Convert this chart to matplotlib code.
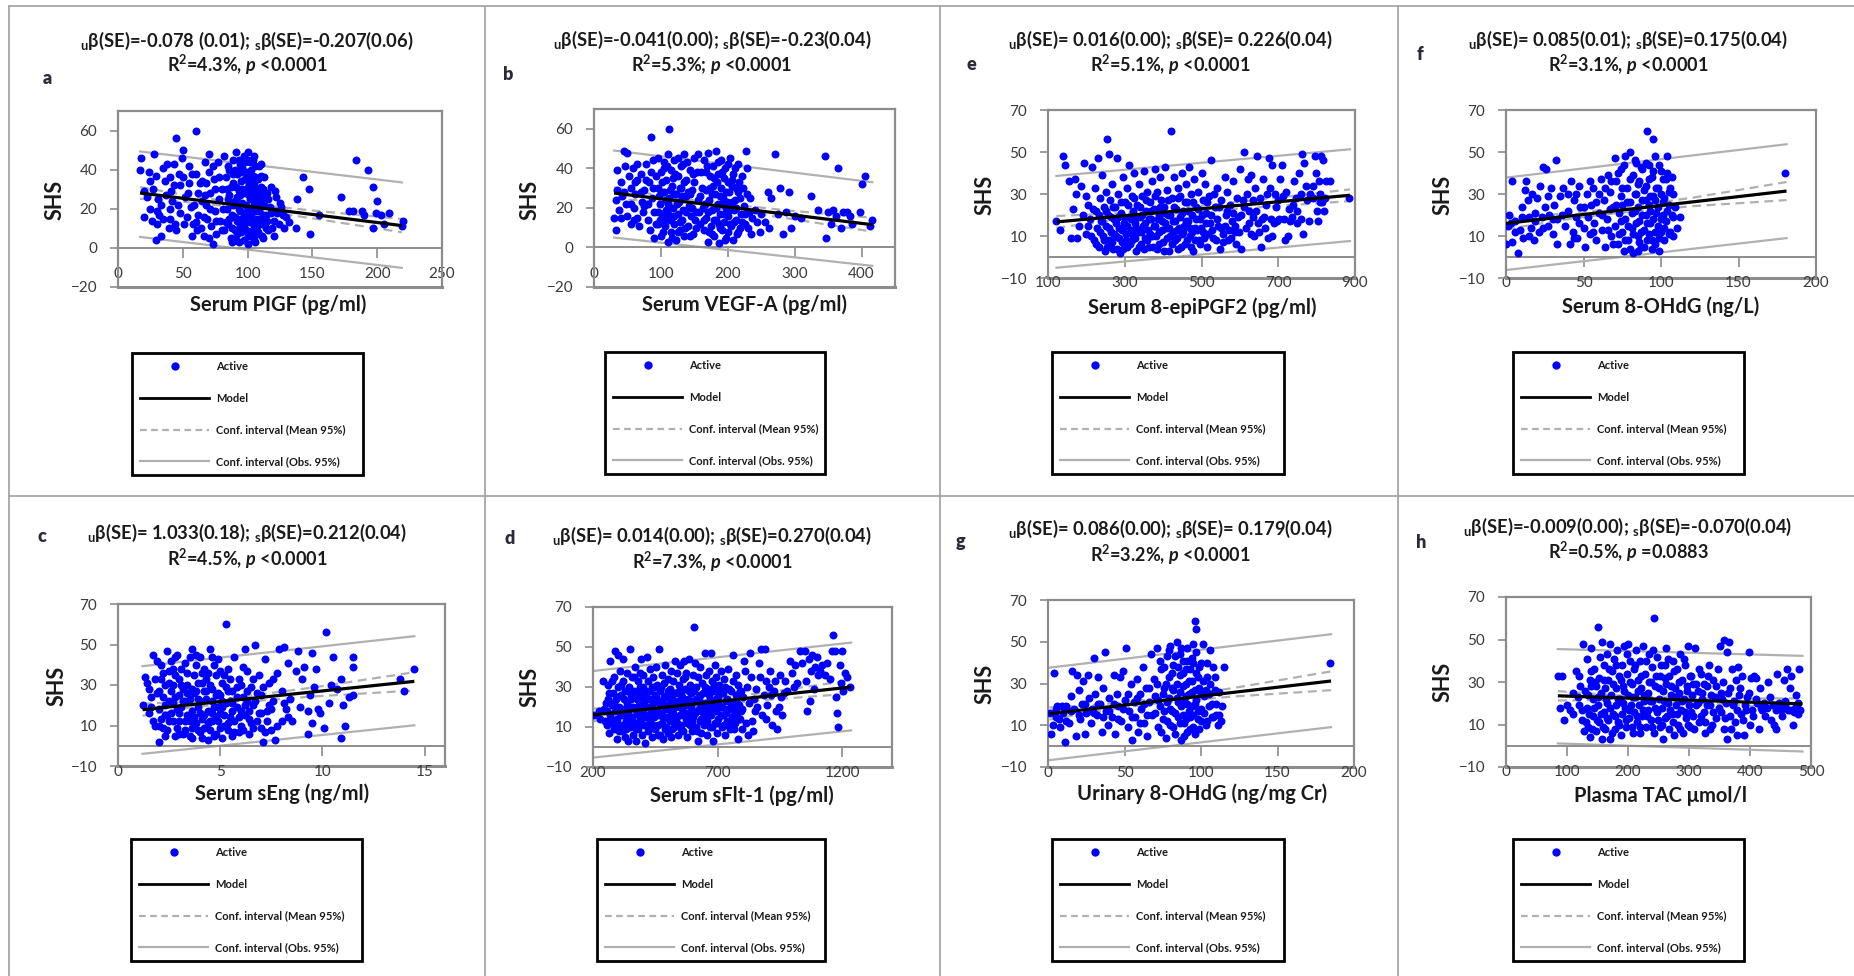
import matplotlib
matplotlib.use('Agg')
import matplotlib.pyplot as plt
from matplotlib.lines import Line2D

plt.rcParams['font.family'] = ['Lato', 'DejaVu Sans']
plt.rcParams['mathtext.fontset'] = 'custom'
plt.rcParams['mathtext.rm'] = 'Lato:bold'
plt.rcParams['mathtext.it'] = 'Lato:italic:bold'
plt.rcParams['mathtext.bf'] = 'Lato:bold'

# ---------------- data ----------------
a_pts = [(18,46),(17,40),(20,29),(20,16),(25,34),(28,48),(27,30),(29,37),(30,19),(30,12),(31,25),(32,17),(33,6),(29,4),
 (35,41),(36,34),(38,43),(40,36),(41,29),(40,15),(42,24),(43,43),(44,12),(45,9),(45,56),(47,38),(48,32),(49,46),(50,50),
 (48,18),(52,26),(53,16),(55,33),(56,21),(57,6),(58,12),(60,60),(60,38),(62,28),(62,17),(64,10),(65,34),(66,6),(67,44),
 (68,22),(69,15),(70,39),(70,48),(71,28),(72,11),(73,2),(74,35),(75,19),(76,7),(77,44),(78,25),(79,14),(80,30),
 (82,47),(82,9),(83,36),(84,20),(85,12),(86,40),(86,27),(87,5),(88,17),(89,33),(89,45),(90,24),(90,9),(91,49),(92,14),
 (92,38),(93,29),(93,3),(94,19),(94,43),(95,8),(95,34),(96,23),(96,12),(97,47),(97,4),(98,28),(98,16),(99,39),(99,9),
 (100,49),(100,20),(100,2),(101,33),(101,13),(102,44),(102,25),(103,6),(103,17),(104,37),(104,30),(105,11),(105,22),
 (106,42),(106,3),(107,27),(107,15),(108,35),(108,8),(109,19),(110,43),(110,31),(111,12),(112,24),(112,5),
 (113,36),(114,17),(115,28),(116,9),(117,21),(118,31),(120,14),(120,6),(121,19),(122,26),(124,12),(125,23),(127,17),
 (128,10),(130,16),(132,13),(138,25),(137,10),(143,36),(147,30),(148,7),(155,17),(172,26),(178,19),(181,19),(184,45),
 (188,19),(190,17),(193,40),(197,31),(197,10),(200,24),(199,18),(203,17),(205,12),(209,18),(219,11),(220,14),
 (84,30),(86,15),(88,3),(89,22),(91,31),(92,7),(94,27),(95,15),(96,41),(97,10),(98,35),(99,22),(100,6),(101,27),
 (102,15),(103,40),(104,9),(105,33),(106,19),(107,7),(108,24),(109,42),(110,14),(111,27),(90,40),(93,45),(100,45),
 (105,47),(60,13),(55,42),(65,24),(70,5),(75,30),(50,36),(40,20),(35,15),(25,20),(68,33),
 (81,20),(83,13),(85,25),(85,42),(87,31),(88,10),(89,38),(90,16),(91,4),(92,26),(93,20),(94,11),(95,39),(96,30),
 (97,18),(98,44),(99,13),(100,31),(100,38),(101,8),(102,20),(102,35),(103,28),(104,14),(104,45),(105,4),(106,25),
 (106,36),(107,11),(108,30),(109,13),(110,22),(110,37),(111,6),(112,17),(112,30),(113,22),(114,10),(115,14),(116,25),
 (118,18),(119,10),(121,29),(123,18),(126,21),(22,26),(24,39),(26,14),(33,22),(37,27),(39,10),(43,32),(46,22),(51,12),
 (54,28),(57,38),(59,22),(61,9),(63,33),(66,16),(67,27),(71,20),(73,42),(76,14),(78,36),(80,9)]

b_pts = [(30,15),(33,24),(33,9),(35,29),(35,39),(37,19),(40,33),(42,26),(45,49),(47,41),(48,22),(50,48),(50,16),(52,36),
 (55,30),(55,12),(58,40),(60,20),(62,27),(65,34),(65,15),(68,11),(70,37),(72,23),(74,18),(75,29),(78,42),(80,14),(82,33),
 (84,9),(85,56),(86,25),(88,44),(90,18),(90,5),(95,45),(95,30),(96,12),(98,22),(100,38),(100,6),(102,17),(104,43),(105,28),
 (106,11),(108,34),(108,19),(110,47),(110,3),(112,25),(112,60),(113,14),(115,39),(115,8),(117,31),(118,20),(120,44),
 (120,12),(122,27),(123,4),(125,36),(125,17),(127,23),(128,9),(130,41),(130,30),(132,14),(133,19),(135,47),(135,6),
 (137,26),(138,34),(140,11),(142,21),(143,39),(145,16),(147,29),(148,7),(150,33),(152,18),(155,24),(156,47),(158,12),
 (160,38),(163,20),(165,44),(165,9),(167,29),(168,15),(170,48),(170,3),(172,24),(173,36),(175,11),(176,19),(178,41),
 (178,31),(180,6),(181,27),(182,49),(183,14),(185,22),(186,37),(187,2),(188,17),(190,44),(190,30),(192,9),(193,25),
 (195,13),(196,40),(197,20),(198,5),(200,33),(201,16),(202,28),(203,45),(205,11),(206,23),(208,37),(208,4),(210,19),
 (212,30),(213,14),(215,42),(216,8),(218,25),(220,17),(222,36),(224,21),(225,12),(227,49),(229,27),(232,18),(235,7),
 (240,19),(243,13),(248,8),(250,17),(255,13),(260,28),(262,10),(265,25),(270,47),(275,17),(278,30),(283,7),(287,18),
 (292,28),(295,10),(300,16),(310,15),(325,26),(335,19),(345,46),(347,5),(350,18),(355,12),(358,19),(362,16),(365,40),
 (370,10),(373,18),(378,18),(383,16),(385,12),(397,18),(400,32),(405,36),(412,11),(416,14),
 (105,40),(110,22),(115,15),(118,35),(120,27),(125,8),(128,30),(133,42),(138,18),(143,27),(148,37),(153,10),(158,26),
 (168,38),(172,8),(177,27),(180,14),(184,33),(188,10),(191,22),(194,35),(198,28),(200,8),(204,19),(207,31),(211,24),
 (214,7),(217,33),(221,13),(100,28),(95,18),(105,14),(88,30),(92,36),(75,21),(65,42),(60,14),
 (97,26),(99,14),(101,33),(103,8),(107,24),(109,41),(111,17),(114,29),(116,5),(119,16),(121,37),(124,22),(126,45),
 (129,13),(131,26),(134,33),(136,10),(139,43),(141,28),(144,6),(146,20),(149,45),(151,14),(154,38),(157,18),(162,30),
 (164,14),(166,22),(169,41),(171,18),(174,30),(177,7),(179,35),(182,20),(185,43),(187,12),(189,26),(192,38),(194,17),
 (196,4),(199,23),(201,42),(203,12),(206,34),(209,13),(211,40),(213,20),(216,28),(219,10),(223,30),(226,17),(228,40),
 (230,10),(233,25),(236,15),(70,28),(80,22),(85,38),(92,12),(45,28),(55,22),(40,15),(62,33),(77,34)]

e_pts = [(122,17),(130,13),(140,48),(145,44),(155,36),(160,9),(165,23),(170,37),(172,30),(175,9),(180,15),(185,34),(190,20),
 (195,45),(198,29),(200,11),(205,25),(210,18),(215,43),(220,8),(222,33),(225,22),(228,14),(230,47),(232,5),(235,28),
 (238,17),(240,39),(243,10),(245,24),(248,3),(250,31),(252,15),(255,56),(257,20),(258,8),(260,49),(262,27),(265,12),
 (267,35),(270,4),(272,18),(275,24),(277,10),(280,47),(282,30),(285,14),(287,2),(290,21),(292,7),(295,38),(297,16),
 (300,26),(302,11),(305,33),(307,5),(310,19),(312,44),(315,13),(318,29),(320,8),(322,22),(325,40),(327,16),(330,3),
 (332,25),(335,12),(338,35),(340,19),(342,6),(345,29),(348,15),(350,41),(352,9),(355,22),(358,31),(360,13),(362,5),
 (365,26),(368,18),(370,36),(372,10),(375,23),(378,42),(380,15),(383,4),(385,31),(388,20),(390,12),(393,38),(395,27),
 (398,17),(400,7),(403,24),(405,43),(408,14),(410,32),(413,20),(415,3),(418,10),(420,60),(422,28),(425,17),(428,38),
 (430,8),(433,23),(435,13),(438,33),(440,4),(443,19),(445,29),(448,11),(450,40),(453,22),(455,15),(458,6),(460,35),
 (463,26),(465,17),(468,43),(470,10),(473,30),(475,20),(478,3),(480,37),(483,14),(485,24),(490,31),(493,8),(495,18),
 (500,40),(503,27),(505,12),(510,35),(512,21),(515,5),(520,29),(522,16),(525,46),(530,9),(535,24),(540,33),(543,15),
 (548,4),(550,27),(555,11),(560,38),(563,20),(567,31),(570,8),(575,25),(580,17),(583,36),(588,12),(592,28),(595,19),
 (600,42),(603,4),(607,27),(610,50),(615,14),(620,37),(623,22),(628,39),(630,11),(635,19),(640,33),(645,48),(648,16),
 (652,28),(655,5),(660,37),(663,19),(668,25),(672,9),(675,47),(678,33),(683,44),(688,16),(692,30),(697,17),(700,27),
 (705,37),(710,44),(715,18),(720,31),(725,10),(728,23),(735,19),(740,36),(745,28),(750,16),(755,40),(760,30),(762,49),
 (768,45),(772,34),(775,27),(783,30),(790,28),(795,48),(800,22),(803,17),(805,36),(808,26),(812,48),(817,46),(820,22),
 (825,36),(835,36),(885,28),
 (205,15),(212,10),(218,23),(226,6),(233,20),(236,12),(241,17),(247,8),(251,22),(254,5),(259,14),(263,19),(266,7),
 (269,24),(273,11),(276,16),(279,4),(283,19),(286,9),(289,26),(293,13),(296,4),(299,19),(303,8),(306,15),(309,25),
 (313,6),(316,18),(319,11),(323,28),(326,9),(329,14),(333,19),(336,5),(339,24),(343,12),(346,20),(349,4),(353,16),
 (356,27),(359,8),(363,18),(366,11),(369,22),(373,5),(376,15),(379,29),(382,10),(386,18),(389,6),(392,24),(396,13),
 (399,21),(402,3),(406,16),(409,9),(412,27),(416,14),(419,20),(423,6),(426,12),(429,24),(432,17),(436,9),(439,28),
 (442,14),(446,5),(449,21),(452,12),(456,26),(459,17),(462,8),(466,22),(469,14),(472,5),(476,12),(479,26),(482,8),
 (486,18),(489,13),(492,23),(496,6),(499,14),(502,20),(507,9),(511,16),(514,26),(518,11),(524,20),(528,13),(532,30),
 (537,8),(541,18),(546,24),(552,14),(557,7),(562,15),(566,22),(572,13),(577,9),(582,21),(586,15),(590,6),(597,12),
 (602,20),(612,24),(618,30),(625,16),(633,27),(638,10),(643,22),(650,12),(658,18),(665,14),(670,30),(680,18),(685,10),
 (695,24),(703,18),(712,29),(718,8),(730,17),(738,25),(748,22),(758,18),(765,11),(780,17),(790,34),(798,40),(808,30),
 (815,26),(823,28)]

f_pts = [(0,6),(1,15),(2,20),(4,7),(4,36),(6,17),(8,2),(9,13),(10,19),(11,9),(12,32),(13,36),(14,27),(15,10),(15,19),
 (17,30),(18,8),(19,17),(20,28),(21,12),(22,34),(23,19),(24,43),(25,24),(26,42),(27,15),(28,20),(29,33),(30,11),(31,25),
 (32,46),(33,6),(33,18),(35,29),(37,33),(38,15),(40,22),(41,6),(42,36),(43,12),(44,27),(45,19),(46,9),(47,34),(48,24),
 (50,14),(51,5),(52,30),(53,19),(54,11),(55,25),(56,33),(57,16),(58,8),(60,21),(61,37),(62,13),(63,27),(64,5),(65,18),
 (66,39),(67,31),(68,10),(69,24),(70,47),(70,15),(71,36),(72,6),(73,21),(74,42),(74,29),(75,12),(76,3),(77,48),(77,18),
 (78,33),(79,8),(80,26),(80,50),(81,14),(82,39),(82,2),(83,22),(84,45),(84,30),(85,10),(86,17),(86,36),(87,5),(88,27),
 (88,42),(89,13),(90,20),(90,34),(91,60),(91,8),(92,25),(92,44),(93,16),(94,38),(94,4),(95,29),(95,56),(96,12),(96,48),
 (97,21),(98,33),(99,9),(100,41),(100,18),(101,26),(102,14),(103,37),(104,48),(104,22),(105,31),(106,12),(107,38),
 (108,19),(110,14),(112,19),(180,40),(85,3),(80,4),(75,25),(60,30),(45,30),
 (71,25),(72,40),(73,11),(74,17),(75,33),(76,44),(77,8),(78,26),(79,15),(80,37),(81,21),(82,11),(83,30),(83,46),(84,16),
 (85,35),(85,24),(86,7),(87,43),(87,12),(88,20),(89,32),(89,5),(90,27),(90,45),(91,16),(92,37),(92,11),(93,29),(93,22),
 (94,8),(95,18),(95,41),(96,27),(96,6),(97,33),(98,15),(98,24),(99,44),(99,3),(100,12),(100,30),(101,37),(101,20),
 (102,8),(102,28),(103,17),(104,40),(105,11),(105,25),(106,33),(107,20),(108,30),(108,10),(109,24),(62,20),(64,33),
 (66,13),(67,23),(68,36),(69,6),(58,26),(56,12),(54,36),(50,24),(47,16),(44,9),(40,30),(36,20),(30,18),(27,29),(24,14),
 (19,21),(16,14),(10,24),(6,12),(3,16)]

c_pts = [(1.2,20),(1.3,34),(1.4,31),(1.5,16),(1.6,24),(1.7,45),(1.8,10),(1.9,42),(2.0,27),(2.0,2),(2.1,13),(2.2,36),
 (2.3,20),(2.4,47),(2.4,8),(2.5,31),(2.6,16),(2.7,38),(2.8,24),(2.8,5),(2.9,45),(3.0,12),(3.0,33),(3.1,19),(3.2,28),
 (3.3,8),(3.3,41),(3.4,15),(3.5,23),(3.6,48),(3.6,4),(3.7,35),(3.8,11),(3.8,27),(3.9,19),(4.0,44),(4.0,7),(4.1,31),
 (4.2,15),(4.2,38),(4.3,23),(4.4,3),(4.5,48),(4.5,12),(4.6,28),(4.7,19),(4.8,35),(4.8,6),(4.9,43),(5.0,16),(5.0,25),
 (5.1,31),(5.2,10),(5.3,60),(5.3,21),(5.4,38),(5.5,14),(5.6,27),(5.6,5),(5.7,44),(5.8,19),(5.9,33),(6.0,10),(6.1,24),
 (6.2,48),(6.2,15),(6.3,37),(6.4,6),(6.5,29),(6.6,20),(6.7,50),(6.8,12),(6.9,35),(7.0,25),(7.1,2),(7.2,43),(7.3,17),
 (7.4,31),(7.5,8),(7.6,22),(7.7,3),(7.8,36),(7.9,48),(8.0,12),(8.0,27),(8.1,49),(8.2,18),(8.3,41),(8.4,23),(8.5,12),
 (8.7,37),(8.8,47),(8.9,19),(9.0,33),(9.1,39),(9.3,6),(9.3,17),(9.4,25),(9.5,11),(9.5,46),(9.6,29),(9.7,38),(9.8,18),
 (9.9,16),(10.1,9),(10.2,56),(10.3,21),(10.4,30),(10.5,44),(10.7,28),(10.9,4),(10.9,33),(11.0,20),(11.1,10),(11.3,24),
 (11.5,25),(11.5,44),(11.5,39),(13.8,33),(14.0,27),(14.5,38),
 (1.6,19),(1.9,26),(2.2,9),(2.3,30),(2.5,22),(2.6,42),(2.7,12),(2.9,18),(3.0,25),(3.1,38),(3.2,6),(3.3,22),(3.4,30),
 (3.5,12),(3.6,17),(3.7,26),(3.8,40),(3.9,8),(4.0,22),(4.1,13),(4.2,27),(4.3,33),(4.4,17),(4.5,8),(4.6,22),(4.7,40),
 (4.8,14),(4.9,26),(5.0,9),(5.1,19),(5.2,35),(5.4,8),(5.5,22),(5.6,17),(5.7,12),(5.8,29),(5.9,7),(6.0,17),(6.1,39),
 (6.3,22),(6.4,13),(6.6,9),(6.8,26),(7.0,16),(7.2,7),(7.4,20),(2.1,33),(2.8,35),(3.5,44),(4.6,44),
 (1.5,28),(1.7,12),(1.8,33),(2.0,18),(2.1,40),(2.2,24),(2.3,5),(2.4,15),(2.5,37),(2.6,27),(2.7,21),(2.8,44),(2.9,9),
 (3.0,16),(3.1,30),(3.2,22),(3.3,12),(3.4,36),(3.5,5),(3.6,28),(3.7,14),(3.8,45),(3.9,23),(4.0,16),(4.1,36),(4.2,9),
 (4.3,27),(4.4,11),(4.5,30),(4.6,16),(4.7,5),(4.8,25),(4.9,12),(5.0,37),(5.1,22),(5.2,15),(5.3,29),(5.4,11),(5.5,33),
 (5.6,21),(5.7,7),(5.8,24),(5.9,14),(6.0,30),(6.1,8),(6.2,20),(6.3,27),(6.4,17),(6.5,11),(6.6,33),(6.7,22),(6.9,16),
 (7.0,9),(7.1,29),(7.3,12),(7.5,18),(7.6,33),(7.8,10),(8.1,21),(8.3,14),(2.0,10),(2.5,12),(3.0,6),(3.6,9),(4.1,4),
 (4.6,12),(5.1,4),(2.3,15),(2.7,30),(3.4,26),(3.9,31),(4.4,36),(4.9,19),(5.4,27)]

d_pts = [(205,16),(225,18),(230,14),(240,33),(245,19),(250,13),(255,18),(260,24),(262,31),(265,7),(268,16),(270,43),
 (275,21),(278,12),(280,27),(283,35),(285,9),(288,18),(290,48),(293,24),(295,4),(297,14),(300,30),(302,46),(305,20),
 (307,11),(310,38),(312,26),(315,8),(317,16),(320,44),(322,33),(325,19),(327,5),(330,28),(332,13),(335,37),(337,22),
 (340,3),(342,17),(345,30),(347,10),(350,49),(352,24),(355,15),(357,35),(360,6),(362,20),(365,28),(367,12),(370,40),
 (372,3),(375,24),(377,17),(380,33),(382,9),(385,21),(387,30),(390,14),(392,44),(395,6),(397,25),(400,18),(402,36),
 (405,11),(407,28),(410,2),(412,20),(415,45),(417,15),(420,33),(422,8),(425,24),(427,39),(430,13),(432,19),(435,30),
 (437,5),(440,22),(442,35),(445,15),(447,26),(450,9),(452,40),(455,18),(457,31),(460,11),(462,23),(465,49),(467,6),
 (470,28),(472,17),(475,36),(477,12),(480,22),(482,4),(485,32),(487,19),(490,41),(492,10),(495,26),(497,15),(500,34),
 (503,7),(505,21),(508,29),(510,13),(513,38),(515,5),(518,24),(520,17),(523,33),(525,10),(528,43),(530,20),(533,27),
 (535,14),(538,37),(540,6),(543,23),(545,31),(548,16),(550,41),(553,11),(555,26),(558,19),(560,34),(563,8),(565,43),
 (568,22),(570,29),(573,14),(575,37),(578,5),(580,24),(583,17),(585,44),(588,31),(590,11),(593,20),(595,27),(598,8),
 (600,36),(603,15),(605,60),(608,23),(610,42),(613,10),(615,30),(618,18),(620,35),(623,3),(625,25),(628,13),(630,40),
 (633,21),(635,7),(638,32),(640,17),(643,27),(645,11),(648,47),(650,22),(653,36),(655,14),(658,6),(660,29),(663,19),
 (665,38),(668,24),(670,10),(673,47),(675,16),(678,33),(680,3),(683,21),(685,28),(688,12),(690,41),(693,18),(695,35),
 (698,7),(700,25),(703,14),(706,31),(710,20),(713,38),(716,10),(720,27),(723,16),(726,34),(730,6),(733,23),(737,13),
 (740,39),(743,19),(747,29),(750,9),(753,22),(757,15),(760,33),(763,46),(767,20),(770,12),(773,26),(777,17),(780,4),
 (783,31),(787,21),(790,14),(795,28),(798,19),(800,25),(805,43),(810,38),(815,12),(820,30),(822,6),(825,22),(830,47),
 (835,35),(840,13),(842,8),(845,24),(850,18),(855,29),(860,20),(865,42),(870,35),(875,49),(880,16),(885,26),(890,49),
 (893,33),(895,14),(900,21),(905,30),(910,38),(915,26),(920,11),(925,28),(930,33),(935,18),(940,9),(945,20),(950,36),
 (955,25),(960,16),(965,27),(970,33),(980,28),(990,43),(1000,37),(1005,30),(1010,41),(1020,32),(1030,48),(1040,42),
 (1050,48),(1055,33),(1060,18),(1065,44),(1070,23),(1075,38),(1080,46),(1085,29),(1090,40),(1100,45),(1105,36),
 (1110,38),(1120,41),(1130,36),(1140,42),(1150,34),(1160,48),(1165,56),(1170,48),(1175,25),(1180,17),(1185,10),
 (1190,41),(1195,32),(1200,48),(1205,28),(1210,37),(1220,35),(1230,30),
 (252,22),(258,11),(263,27),(272,14),(277,33),(286,22),(291,12),(298,25),(304,8),(309,17),(314,31),(319,11),(324,24),
 (329,16),(334,9),(339,28),(344,20),(349,14),(354,26),(359,11),(364,35),(369,19),(374,9),(379,27),(384,16),(389,37),
 (394,12),(399,30),(404,22),(409,15),(414,27),(419,10),(424,16),(429,28),(434,20),(439,11),(444,30),(449,17),(454,25),
 (459,6),(464,16),(469,21),(474,30),(479,15),(484,25),(489,9),(494,19),(499,28),(504,14),(509,24),(514,18),(519,9),
 (524,27),(529,15),(534,21),(539,12),(544,28),(549,20),(554,9),(559,25),(564,16),(569,35),(574,21),(579,12),(584,28),
 (589,16),(594,23),(599,13),(604,28),(609,17),(614,24),(619,8),(624,19),(629,26),(634,14),(639,22),(644,17),(649,30),
 (654,20),(659,13),(664,26),(669,16),(674,22),(679,10),(684,31),(689,19),(694,24),(699,12),(704,21),(709,28),(714,16),
 (719,20),(724,11),(729,30),(734,17),(739,24),(744,12),(749,19),(754,28),(759,21),(764,9),(769,17),(774,36),(779,22),
 (784,14),(789,28),(794,18),(799,9)]

g_pts = [(1,16),(2,6),(4,35),(5,18),(6,19),(7,13),(8,9),(10,16),(11,2),(12,19),(14,11),(15,24),(16,36),(17,18),(18,5),
 (19,34),(20,27),(21,13),(22,20),(23,31),(24,6),(25,16),(26,34),(27,23),(28,11),(29,18),(30,42),(31,25),(32,15),(33,33),
 (34,20),(35,7),(36,28),(37,45),(38,17),(39,10),(40,23),(42,14),(43,34),(44,6),(45,25),(46,19),(47,33),(48,12),(49,36),
 (50,22),(51,47),(52,9),(53,17),(54,30),(55,3),(56,21),(57,14),(58,32),(59,7),(60,25),(61,18),(62,38),(63,11),(64,28),
 (65,5),(66,21),(67,44),(68,15),(69,32),(70,24),(71,47),(72,9),(73,19),(74,37),(75,13),(76,28),(77,4),(78,43),(78,21),
 (79,33),(80,48),(80,10),(81,17),(82,27),(82,39),(83,6),(84,23),(84,50),(85,14),(86,34),(86,44),(87,19),(87,3),(88,29),
 (88,41),(89,11),(90,24),(90,37),(91,47),(91,7),(92,17),(92,31),(93,14),(94,26),(94,42),(95,9),(95,49),(96,60),(96,20),
 (97,35),(97,56),(98,13),(99,28),(100,40),(100,18),(101,49),(102,24),(103,10),(104,33),(105,19),(106,46),(107,14),
 (108,38),(109,27),(110,20),(111,10),(112,15),(113,12),(114,19),(115,38),(184,40),
 (70,16),(71,30),(72,22),(73,41),(74,7),(75,25),(76,17),(76,38),(77,30),(78,12),(79,23),(79,46),(80,18),(81,35),(81,28),
 (82,9),(83,16),(83,43),(84,30),(85,21),(85,38),(86,11),(86,26),(87,47),(88,15),(88,35),(89,22),(89,5),(90,30),(90,13),
 (91,41),(91,20),(92,25),(93,37),(93,8),(94,19),(94,31),(95,15),(95,40),(96,27),(96,6),(97,22),(97,45),(98,17),(98,33),
 (99,8),(99,38),(100,25),(100,12),(101,31),(102,16),(103,27),(104,40),(104,12),(105,25),(106,30),(107,20),(108,14),
 (109,33),(110,15),(112,26),(65,15),(66,28),(63,20),(60,11),(58,23),(55,14),(52,25),(49,18),(46,13),(43,20),(40,17),
 (36,14),(33,20),(30,16),(27,17),(24,20),(20,15),(15,17),(12,12),(9,19),(5,14),(3,10)]

h_pts = [(85,33),(88,18),(92,33),(95,12),(100,19),(105,17),(110,15),(115,35),(118,23),(120,33),(122,28),(125,12),(127,48),
 (128,7),(130,26),(132,41),(133,18),(135,9),(137,31),(138,4),(140,46),(142,22),(143,14),(145,36),(147,28),(148,7),
 (150,56),(150,19),(152,32),(153,11),(155,25),(157,49),(158,3),(160,38),(160,16),(162,27),(163,8),(165,43),(165,20),
 (167,31),(168,12),(170,48),(170,3),(172,24),(173,35),(175,15),(177,41),(178,8),(180,27),(180,19),(182,45),(183,11),
 (185,33),(187,22),(188,5),(190,38),(190,15),(192,28),(193,47),(195,18),(197,9),(198,34),(200,24),(200,48),(202,13),
 (203,40),(205,19),(207,29),(208,6),(210,36),(210,16),(212,23),(213,45),(215,11),(217,31),(218,19),(220,40),(220,6),
 (222,27),(223,14),(225,47),(227,21),(228,34),(230,9),(232,25),(233,17),(235,43),(237,30),(238,12),(240,37),(240,21),
 (242,6),(243,60),(245,28),(247,16),(248,42),(250,22),(252,9),(253,33),(255,18),(257,26),(258,3),(260,38),(260,13),
 (262,29),(263,46),(265,20),(267,8),(268,33),(270,24),(272,15),(273,40),(275,5),(277,27),(278,19),(280,36),(282,10),
 (283,25),(285,43),(287,17),(288,31),(290,6),(292,22),(293,38),(295,13),(297,28),(298,47),(300,19),(302,9),(303,33),
 (305,24),(307,14),(310,46),(312,29),(315,20),(317,11),(320,34),(322,25),(325,16),(327,6),(330,28),(332,38),(335,19),
 (337,10),(340,31),(342,23),(345,13),(347,36),(350,47),(352,25),(353,16),(355,30),(357,8),(358,50),(360,20),(362,3),
 (363,44),(365,49),(367,27),(368,14),(370,36),(372,19),(375,11),(377,31),(378,5),(380,37),(382,24),(385,15),(387,33),
 (390,5),(392,19),(395,23),(398,44),(400,10),(402,32),(404,17),(407,33),(410,32),(412,20),(415,8),(418,18),(420,17),
 (425,14),(430,30),(432,23),(437,19),(440,10),(442,8),(445,34),(448,20),(450,17),(455,31),(458,21),(460,36),(462,17),
 (465,27),(468,33),(470,10),(472,16),(475,24),(478,15),(480,36),(482,17),
 (131,11),(134,24),(136,15),(139,35),(141,8),(144,18),(146,30),(149,12),(151,23),(154,42),(156,15),(159,9),(161,31),
 (164,22),(166,13),(169,36),(171,18),(174,6),(176,29),(179,14),(181,38),(184,22),(186,10),(189,31),(191,20),(194,26),
 (196,12),(199,43),(201,17),(204,30),(206,9),(209,23),(211,38),(214,14),(216,26),(219,9),(221,33),(224,17),(226,24),
 (229,40),(231,14),(234,30),(236,21),(239,9),(241,45),(244,18),(246,33),(249,12),(251,27),(254,38),(256,10),(259,21),
 (261,32),(264,14),(266,41),(269,17),(271,28),(274,11),(276,35),(279,23),(281,15),(284,30),(286,8),(289,21),(291,41),
 (294,16),(296,26),(299,10),(301,33),(304,16),(306,29),(309,8),(311,19),(314,26),(316,36),(319,14),(321,22),(324,29),
 (326,11),(329,19),(331,33),(334,8),(336,24),(339,16),(344,28),(349,18),(354,22),(359,13),(364,25),(369,8),(374,21),
 (379,17),(384,27),(389,12),(394,17),(399,25),(405,14),(410,22),(416,27),(423,20),(428,18),(435,12),(443,17),(452,14),
 (457,19),(466,17),(474,18),(479,20),(120,19),(110,25),(125,17),(140,28)]

# model line end points
a_model_x = [17, 219];    a_model_y = [28.1, 11.4]
b_model_x = [30, 416];    b_model_y = [27.5, 11.5]
e_model_x = [122, 887];   e_model_y = [16.7, 29.4]
f_model_x = [0, 181];     f_model_y = [16.0, 31.4]
c_model_x = [1.2, 14.5];  c_model_y = [17.8, 31.8]
d_model_x = [200, 1236];  d_model_y = [16.0, 30.0]
g_model_x = [1, 185];     g_model_y = [15.5, 31.2]
h_model_x = [85, 486];    h_model_y = [23.5, 19.7]

# observation 95% interval (upper, lower) at the model end points
a_obs_up = [49.3, 33.5]; a_obs_lo = [5.6, -10.2]
b_obs_up = [49.0, 33.0]; b_obs_lo = [5.0, -9.3]
e_obs_up = [38.6, 51.3]; e_obs_lo = [-5.1, 7.6]
f_obs_up = [37.8, 53.7]; f_obs_lo = [-6.2, 9.0]
c_obs_up = [39.3, 54.1]; c_obs_lo = [-4.0, 10.1]
d_obs_up = [38.0, 52.2]; d_obs_lo = [-5.3, 8.3]
g_obs_up = [37.6, 53.6]; g_obs_lo = [-6.7, 9.1]
h_obs_up = [45.5, 42.3]; h_obs_lo = [1.1, -2.7]

# mean 95% interval
a_ci_x = [17, 50, 90, 150, 219];     a_ci_up = [31.1, 27.2, 23.3, 19.1, 14.8]; a_ci_lo = [25.1, 23.6, 20.9, 15.1, 8.0]
b_ci_x = [30, 100, 160, 290, 416];   b_ci_up = [30.3, 26.2, 23.3, 18.7, 15.0]; b_ci_lo = [24.7, 23.0, 20.9, 14.7, 8.0]
e_ci_x = [122, 280, 420, 650, 887];  e_ci_up = [19.5, 20.8, 22.8, 27.3, 32.2]; e_ci_lo = [13.9, 17.8, 20.6, 23.7, 26.6]
f_ci_x = [0, 35, 65, 120, 181];      f_ci_up = [18.8, 20.5, 22.6, 28.2, 35.7]; f_ci_lo = [13.2, 17.5, 20.4, 24.2, 27.1]
c_ci_x = [1.2, 3.5, 5.2, 9.5, 14.5]; c_ci_up = [20.8, 21.6, 23.1, 28.7, 36.3]; c_ci_lo = [14.8, 18.8, 20.9, 24.3, 27.3]
d_ci_x = [200, 400, 580, 900, 1236]; d_ci_up = [19.2, 20.3, 22.3, 27.4, 33.3]; d_ci_lo = [12.8, 17.1, 20.1, 23.6, 26.7]
g_ci_x = [1, 35, 70, 120, 185];      g_ci_up = [18.5, 20.0, 22.6, 27.7, 35.8]; g_ci_lo = [12.7, 17.0, 20.4, 23.7, 26.8]
h_ci_x = [85, 180, 240, 360, 486];   h_ci_up = [25.7, 23.7, 22.9, 22.2, 22.3]; h_ci_lo = [21.3, 21.5, 21.1, 19.6, 17.1]

titles1 = {
 'a': r'$_{\mathrm{u}}$β(SE)=-0.078 (0.01); $_{\mathrm{s}}$β(SE)=-0.207(0.06)',
 'b': r'$_{\mathrm{u}}$β(SE)=-0.041(0.00); $_{\mathrm{s}}$β(SE)=-0.23(0.04)',
 'e': r'$_{\mathrm{u}}$β(SE)= 0.016(0.00); $_{\mathrm{s}}$β(SE)= 0.226(0.04)',
 'f': r'$_{\mathrm{u}}$β(SE)= 0.085(0.01); $_{\mathrm{s}}$β(SE)=0.175(0.04)',
 'c': r'$_{\mathrm{u}}$β(SE)= 1.033(0.18); $_{\mathrm{s}}$β(SE)=0.212(0.04)',
 'd': r'$_{\mathrm{u}}$β(SE)= 0.014(0.00); $_{\mathrm{s}}$β(SE)=0.270(0.04)',
 'g': r'$_{\mathrm{u}}$β(SE)= 0.086(0.00); $_{\mathrm{s}}$β(SE)= 0.179(0.04)',
 'h': r'$_{\mathrm{u}}$β(SE)=-0.009(0.00); $_{\mathrm{s}}$β(SE)=-0.070(0.04)',
}
titles2 = {
 'a': r'R$^{\mathrm{2}}$=4.3%, $\mathit{p}$ <0.0001',
 'b': r'R$^{\mathrm{2}}$=5.3%; $\mathit{p}$ <0.0001',
 'e': r'R$^{\mathrm{2}}$=5.1%, $\mathit{p}$ <0.0001',
 'f': r'R$^{\mathrm{2}}$=3.1%, $\mathit{p}$ <0.0001',
 'c': r'R$^{\mathrm{2}}$=4.5%, $\mathit{p}$ <0.0001',
 'd': r'R$^{\mathrm{2}}$=7.3%, $\mathit{p}$ <0.0001',
 'g': r'R$^{\mathrm{2}}$=3.2%, $\mathit{p}$ <0.0001',
 'h': r'R$^{\mathrm{2}}$=0.5%, $\mathit{p}$ =0.0883',
}
xlabels = {'a': 'Serum PIGF (pg/ml)', 'b': 'Serum VEGF-A (pg/ml)', 'e': 'Serum 8-epiPGF2 (pg/ml)',
           'f': 'Serum 8-OHdG (ng/L)', 'c': 'Serum sEng (ng/ml)', 'd': 'Serum sFlt-1 (pg/ml)',
           'g': 'Urinary 8-OHdG (ng/mg Cr)', 'h': 'Plasma TAC \u03bcmol/l'}
xticks = {'a': [0, 50, 100, 150, 200, 250], 'b': [0, 100, 200, 300, 400], 'e': [100, 300, 500, 700, 900],
          'f': [0, 50, 100, 150, 200], 'c': [0, 5, 10, 15], 'd': [200, 700, 1200],
          'g': [0, 50, 100, 150, 200], 'h': [0, 100, 200, 300, 400, 500]}
yticks_top = [-20, 0, 20, 40, 60]
yticks_all = [-10, 10, 30, 50, 70]
legend_labels = ['Active', 'Model', 'Conf. interval (Mean 95%)', 'Conf. interval (Obs. 95%)']

# ---------------- layout (pixels) ----------------
W, H = 1854, 976
fig = plt.figure(figsize=(W / 100, H / 100), dpi=100)
bg = fig.add_axes([0, 0, 1, 1], zorder=-5)
bg.set_xlim(0, W); bg.set_ylim(H, 0); bg.axis('off')
for xv in [9, 485, 940, 1398]:
    bg.plot([xv, xv], [6, H], color='#a6a6a6', lw=1.3)
for yv in [6, 496]:
    bg.plot([9, W], [yv, yv], color='#a6a6a6', lw=1.3)

layout = {
 'a': dict(box=(118, 442, 111, 287), xlim=(0, 250), ylim=(-20, 70), t=(247, 41, 65), let=(47, 79),
           xl=(278, 305), yl=(55, 200), leg=(132, 363, 353)),
 'b': dict(box=(594, 895, 109, 287), xlim=(0, 450), ylim=(-20, 70), t=(712, 40, 65), let=(508, 75),
           xl=(745, 305), yl=(530, 200), leg=(605, 825, 352)),
 'e': dict(box=(1048, 1355, 110, 278), xlim=(100, 900), ylim=(-10, 70), t=(1170, 40, 65), let=(971, 64),
           xl=(1202, 308), yl=(985, 195), leg=(1052, 1284, 352)),
 'f': dict(box=(1506, 1816, 110, 278), xlim=(0, 200), ylim=(-10, 70), t=(1628, 40, 65), let=(1420, 55),
           xl=(1661, 307), yl=(1443, 195), leg=(1513, 1744, 352)),
 'c': dict(box=(118, 445, 604, 766), xlim=(0, 16), ylim=(-10, 70), t=(247, 533, 559), let=(42, 537),
           xl=(282, 794), yl=(57, 686), leg=(131, 362, 839)),
 'd': dict(box=(593, 892, 607, 767), xlim=(200, 1400), ylim=(-10, 70), t=(712, 536, 562), let=(510, 539),
           xl=(742, 796), yl=(530, 687), leg=(597, 825, 839)),
 'g': dict(box=(1048, 1354, 600, 767), xlim=(0, 200), ylim=(-10, 70), t=(1170, 529, 555), let=(961, 542),
           xl=(1202, 794), yl=(985, 684), leg=(1052, 1284, 839)),
 'h': dict(box=(1506, 1811, 597, 767), xlim=(0, 500), ylim=(-10, 70), t=(1628, 527, 552), let=(1421, 542),
           xl=(1660, 796), yl=(1443, 682), leg=(1513, 1744, 839)),
}

data = {
 'a': (a_pts, a_model_x, a_model_y, a_obs_up, a_obs_lo, a_ci_x, a_ci_up, a_ci_lo),
 'b': (b_pts, b_model_x, b_model_y, b_obs_up, b_obs_lo, b_ci_x, b_ci_up, b_ci_lo),
 'e': (e_pts, e_model_x, e_model_y, e_obs_up, e_obs_lo, e_ci_x, e_ci_up, e_ci_lo),
 'f': (f_pts, f_model_x, f_model_y, f_obs_up, f_obs_lo, f_ci_x, f_ci_up, f_ci_lo),
 'c': (c_pts, c_model_x, c_model_y, c_obs_up, c_obs_lo, c_ci_x, c_ci_up, c_ci_lo),
 'd': (d_pts, d_model_x, d_model_y, d_obs_up, d_obs_lo, d_ci_x, d_ci_up, d_ci_lo),
 'g': (g_pts, g_model_x, g_model_y, g_obs_up, g_obs_lo, g_ci_x, g_ci_up, g_ci_lo),
 'h': (h_pts, h_model_x, h_model_y, h_obs_up, h_obs_lo, h_ci_x, h_ci_up, h_ci_lo),
}

GREY = '#8c8c8c'
BLUE = '#0000ff'
CI_GREY = '#b0b0b0'
TXT = '#1a1a1a'

def fxy(px, py):
    return px / W, 1 - py / H

for key, lay in layout.items():
    pts, mx, my, oup, olo, cx, cup, clo = data[key]
    L, R, T, B = lay['box']
    ax = fig.add_axes([L / W, 1 - B / H, (R - L) / W, (B - T) / H])
    ax.set_xlim(*lay['xlim']); ax.set_ylim(*lay['ylim'])
    xs = [p[0] for p in pts]; ys = [p[1] for p in pts]
    ax.plot(mx, oup, color=CI_GREY, lw=1.6, zorder=2)
    ax.plot(mx, olo, color=CI_GREY, lw=1.6, zorder=2)
    ax.plot(cx, cup, color=CI_GREY, lw=1.6, ls=(0, (4, 2.5)), zorder=2)
    ax.plot(cx, clo, color=CI_GREY, lw=1.6, ls=(0, (4, 2.5)), zorder=2)
    ax.scatter(xs, ys, s=33, color=BLUE, linewidths=0, zorder=3)
    ax.plot(mx, my, color='black', lw=2.3, zorder=4, solid_capstyle='butt')
    for s in ['top', 'right', 'left']:
        ax.spines[s].set_color(GREY); ax.spines[s].set_linewidth(1.6)
    ax.spines['bottom'].set_position(('data', 0))
    ax.spines['bottom'].set_color(GREY); ax.spines['bottom'].set_linewidth(1.4)
    ax.axhline(lay['ylim'][0], color=GREY, lw=2.2, clip_on=False, zorder=1)
    ax.set_xticks(xticks[key])
    ax.set_yticks(yticks_top if lay['ylim'][0] == -20 else yticks_all)
    ax.tick_params(axis='x', direction='out', length=7, width=1.2, color=GREY, pad=7,
                   labelsize=11, labelcolor='#3a3a3a')
    ax.tick_params(axis='y', direction='out', length=6, width=1.2, color=GREY, pad=9,
                   labelsize=11, labelcolor='#3a3a3a')
    ax.set_facecolor('none')
    tx, ty1, ty2 = lay['t']
    fig.text(*fxy(tx, ty1), titles1[key], ha='center', va='center', fontsize=13.2,
             fontweight='bold', color=TXT)
    fig.text(*fxy(tx, ty2), titles2[key], ha='center', va='center', fontsize=13,
             fontweight='bold', color=TXT)
    fig.text(*fxy(*lay['let']), key, ha='center', va='center', fontsize=13, fontweight='heavy',
             color='#2a2a3a')
    fig.text(*fxy(*lay['xl']), xlabels[key], ha='center', va='center', fontsize=14.5,
             fontweight='bold', color=TXT)
    fig.text(*fxy(*lay['yl']), 'SHS', ha='center', va='center', fontsize=15.5,
             fontweight='bold', color=TXT, rotation=90)
    lx0, lx1, ly0 = lay['leg']
    handles = [Line2D([], [], ls='', marker='o', markersize=6, color=BLUE, markeredgewidth=0),
               Line2D([], [], color='black', lw=2.0),
               Line2D([], [], color=CI_GREY, lw=1.6, ls=(0, (3, 2))),
               Line2D([], [], color=CI_GREY, lw=1.6)]
    bx, by = fxy(lx0, ly0)
    leg = ax.legend(handles, legend_labels, loc='upper left', bbox_to_anchor=(bx, by, (lx1 - lx0) / W, 0),
                    bbox_transform=fig.transFigure, mode='expand', labelspacing=1.85,
                    handlelength=6.2, handletextpad=0.6, borderpad=0.75, borderaxespad=0,
                    fancybox=False, framealpha=1, prop={'weight': 'bold', 'size': 8})
    leg.get_frame().set_edgecolor('black'); leg.get_frame().set_linewidth(2.0)
    for t in leg.get_texts():
        t.set_color(TXT)

fig.savefig('out.png', dpi=100)
